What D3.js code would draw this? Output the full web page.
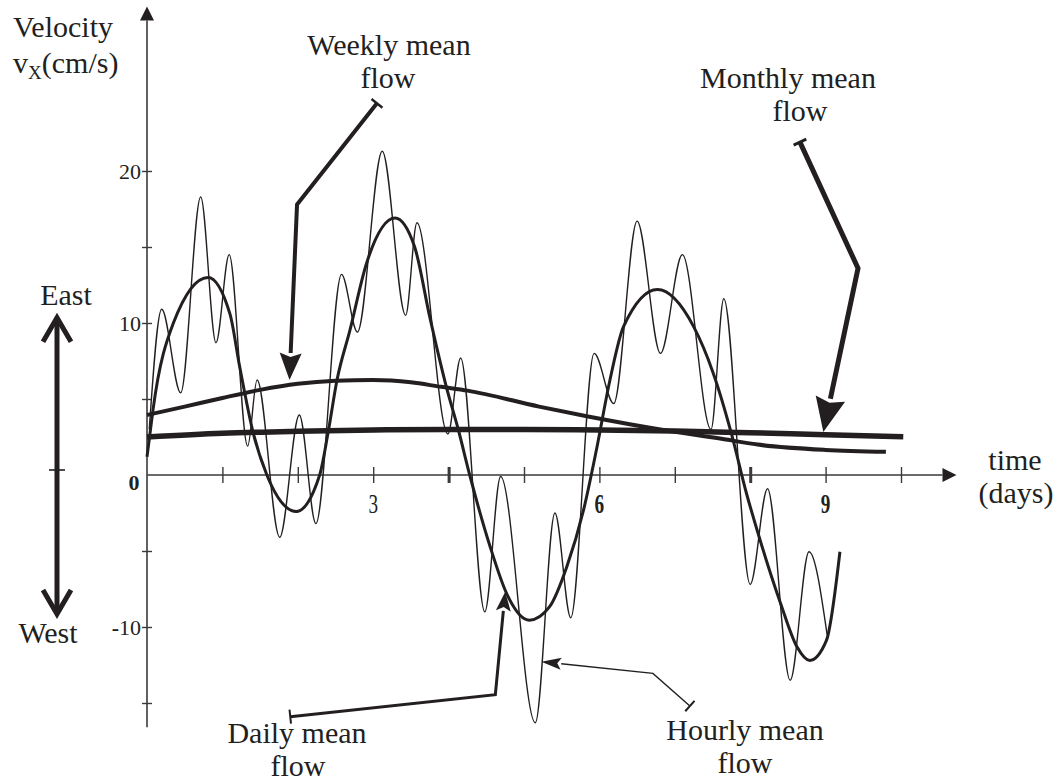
<!DOCTYPE html>
<html>
<head>
<meta charset="utf-8">
<script src="https://cdn.jsdelivr.net/npm/d3@7/dist/d3.min.js"></script>
<style>
  body { margin: 0; background: #fff; }
  text { font-family: "Liberation Serif", "Times New Roman", serif; fill: #231f20; }
</style>
</head>
<body>
<div id="chart"></div>
<script>
// Velocity v_x (cm/s) against time (days)

// axis ticks
const xTicks = [1, 2, 3, 4, 5, 6, 7, 8, 9, 10];
const xBoldTicks = [4, 8];
const xLabels = [3, 6, 9];
const xLabelBold = [false, true, true];
const yTicks = [20, 15, 10, 5, -5, -10, -15];
const yLabels = [20, 10, 0, -10];

// hourly mean flow: [day, cm/s] at each crest and trough
const hourly = [
  [0.03, 3.0], [0.195, 10.9], [0.447, 5.4], [0.712, 18.3], [0.915, 8.7],
  [1.09, 14.5], [1.335, 1.9], [1.46, 6.25], [1.76, -4.1], [2.02, 3.95],
  [2.24, -3.2], [2.58, 13.2], [2.79, 9.4], [3.12, 21.3], [3.43, 10.5],
  [3.58, 16.6], [3.99, 2.7], [4.16, 7.7], [4.48, -9.0], [4.69, -0.1],
  [5.15, -16.3], [5.41, -2.5], [5.62, -9.4], [5.93, 8.0], [6.19, 4.7],
  [6.50, 16.7], [6.81, 8.0], [7.10, 14.5], [7.48, 3.0], [7.65, 11.6],
  [8.00, -7.2], [8.23, -0.9], [8.53, -13.5], [8.78, -5.05], [9.02, -10.5]
];

// daily mean flow
const daily = [
  [0, 1.2], [0.04, 2.74], [0.08, 4.3], [0.35, 10.0], [0.81, 13.0],
  [1.1, 10.6], [1.23, 7.1], [1.41, 2.74], [1.59, 0], [1.98, -2.4],
  [2.29, 0], [2.40, 2.74], [2.52, 6.25], [2.69, 9.5], [2.91, 13.9],
  [3.29, 16.9], [3.55, 15.0], [3.75, 10.4], [3.97, 5.8], [4.13, 2.96],
  [4.28, 0], [4.55, -4.7], [4.77, -7.8], [5.07, -9.55], [5.34, -8.66],
  [5.57, -6.0], [5.79, -2.3], [5.96, 1.64], [6.14, 6.25], [6.32, 9.76],
  [6.77, 12.2], [7.25, 9.76], [7.51, 6.7], [7.75, 2.74], [7.95, -1.2],
  [8.09, -3.6], [8.40, -8.4], [8.62, -11.3], [8.79, -12.2], [9.01, -10.9],
  [9.19, -5.05]
];

// weekly mean flow
const weekly = [
  [0, 3.95], [0.5, 4.5], [1, 5.07], [1.5, 5.6], [2, 6.0], [2.5, 6.2],
  [3, 6.25], [3.5, 6.1], [3.9, 5.8], [4.25, 5.55], [5.2, 4.5], [5.85, 3.85],
  [6.85, 2.96], [7.6, 2.4], [8.1, 2.0], [9, 1.65], [9.8, 1.53]
];

// monthly mean flow
const monthly = [
  [0, 2.5], [1, 2.75], [2, 2.88], [3, 2.96], [4, 3.0], [5, 3.0],
  [6, 2.96], [7, 2.9], [8, 2.78], [9, 2.65], [10.03, 2.52]
];

// callouts: tail (with bar), bend, arrow tip, all in [day, cm/s]
const callouts = [
  { name: "weekly",  pts: [[3.05, 24.45], [1.99, 17.8], [1.89, 6.25]], w: 4,   head: [27, 22] },
  { name: "monthly", pts: [[8.66, 21.9], [9.43, 13.6], [8.97, 2.83]],  w: 5,   head: [34, 30] },
  { name: "daily",   pts: [[1.90, -15.9], [4.62, -14.45], [4.75, -7.7]], w: 3, head: [19, 15] },
  { name: "hourly",  pts: [[7.2, -15.2], [6.71, -13.05], [5.23, -12.28]], w: 1.4, head: [20, 12] }
];

const width = 1058, height = 782;
const ink = "#231f20";

const svg = d3.select("#chart").append("svg")
  .attr("width", width)
  .attr("height", height);

const x = d3.scaleLinear().domain([0, 10]).range([147, 901]);
const y = d3.scaleLinear().domain([-10, 20]).range([627, 171]);

// axes lines + arrows
svg.append("line")
  .attr("x1", x(0)).attr("x2", x(10.55))
  .attr("y1", y(0)).attr("y2", y(0))
  .attr("stroke", "#3a3a3a").attr("stroke-width", 1.6);
svg.append("path")
  .attr("d", `M${x(10.55)},${y(0) - 7}L${x(10.55) + 14},${y(0)}L${x(10.55)},${y(0) + 7}Z`)
  .attr("fill", ink);

svg.append("line")
  .attr("x1", x(0)).attr("x2", x(0))
  .attr("y1", y(-16.6)).attr("y2", y(29.9))
  .attr("stroke", "#3a3a3a").attr("stroke-width", 1.6);
svg.append("path")
  .attr("d", `M${x(0) - 7},${y(29.9)}L${x(0)},${y(29.9) - 14}L${x(0) + 7},${y(29.9)}Z`)
  .attr("fill", ink);

// x ticks, crossing the axis
const xAxis = svg.append("g")
  .attr("transform", `translate(0,${y(0) - 8})`)
  .call(d3.axisBottom(x).tickValues(xTicks).tickSize(16).tickFormat(""));
xAxis.select(".domain").remove();
xAxis.selectAll(".tick line")
  .attr("stroke", "#3a3a3a")
  .attr("stroke-width", d => xBoldTicks.includes(d) ? 3 : 1.4);

// y ticks, crossing the axis
const yAxis = svg.append("g")
  .attr("transform", `translate(${x(0) + 5},0)`)
  .call(d3.axisLeft(y).tickValues(yTicks).tickSize(10).tickFormat(""));
yAxis.select(".domain").remove();
yAxis.selectAll(".tick line").attr("stroke", "#3a3a3a").attr("stroke-width", 1.4);

// tick labels
svg.selectAll(".ylab")
  .data(yLabels)
  .enter()
  .append("text")
  .attr("class", "ylab")
  .attr("x", d => d === 0 ? x(0) - 13 : x(0) - 6)
  .attr("y", d => d === 0 ? y(0) + 15 : y(d) + 8)
  .attr("text-anchor", d => d === 0 ? "middle" : "end")
  .style("font-size", "22px")
  .style("font-weight", d => d === 0 ? "bold" : "normal")
  .each(function(d) {
    const t = d3.select(this);
    if (d < 0) {
      t.append("tspan").style("font-weight", "bold").text("-");
      t.append("tspan").text(Math.abs(d));
    } else {
      t.text(d);
    }
  });

svg.selectAll(".xlab")
  .data(xLabels)
  .enter()
  .append("text")
  .attr("class", "xlab")
  .attr("transform", d => `translate(${x(d)},${y(0) + 38}) scale(0.8,1.15)`)
  .attr("text-anchor", "middle")
  .style("font-size", "24px")
  .style("font-weight", (d, i) => xLabelBold[i] ? "bold" : "normal")
  .text(d => d);

// curves
const line = d3.line()
  .x(d => x(d[0]))
  .y(d => y(d[1]))
  .curve(d3.curveMonotoneX);

svg.append("path").datum(monthly)
  .attr("d", line).attr("fill", "none").attr("stroke", ink).attr("stroke-width", 5.5);
svg.append("path").datum(weekly)
  .attr("d", line).attr("fill", "none").attr("stroke", ink).attr("stroke-width", 4);
svg.append("path").datum(daily)
  .attr("d", line).attr("fill", "none").attr("stroke", ink).attr("stroke-width", 3);
svg.append("path").datum(hourly)
  .attr("d", line).attr("fill", "none").attr("stroke", ink).attr("stroke-width", 1.4);

// callout arrows
callouts.forEach(c => {
  const p = c.pts.map(d => [x(d[0]), y(d[1])]);
  const tip = p[2], bend = p[1], tail = p[0];
  let dx = tip[0] - bend[0], dy = tip[1] - bend[1];
  let len = Math.hypot(dx, dy);
  const ux = dx / len, uy = dy / len;
  const base = [tip[0] - ux * c.head[0], tip[1] - uy * c.head[0]];
  svg.append("path")
    .attr("d", d3.line()([tail, bend, base]))
    .attr("fill", "none").attr("stroke", ink)
    .attr("stroke-width", c.w).attr("stroke-linejoin", "miter");
  const hw = c.head[1] / 2;
  svg.append("path")
    .attr("d", `M${tip[0]},${tip[1]}L${base[0] - uy * hw},${base[1] + ux * hw}` +
               `L${base[0] + ux * 4},${base[1] + uy * 4}L${base[0] + uy * hw},${base[1] - ux * hw}Z`)
    .attr("fill", ink);
  // small bar on the tail end
  dx = bend[0] - tail[0]; dy = bend[1] - tail[1];
  len = Math.hypot(dx, dy);
  const px = -dy / len * 7, py = dx / len * 7;
  svg.append("line")
    .attr("x1", tail[0] - px).attr("y1", tail[1] - py)
    .attr("x2", tail[0] + px).attr("y2", tail[1] + py)
    .attr("stroke", ink).attr("stroke-width", Math.max(2, c.w * 0.6));
});

// East / West double arrow
const ex = 57;
svg.append("line")
  .attr("x1", ex).attr("x2", ex)
  .attr("y1", y(10.35)).attr("y2", y(-9.15))
  .attr("stroke", ink).attr("stroke-width", 5);
svg.append("path")
  .attr("d", `M${ex - 14},${y(10.35) + 24}L${ex},${y(10.35)}L${ex + 14},${y(10.35) + 24}` +
             `M${ex - 14},${y(-9.15) - 24}L${ex},${y(-9.15)}L${ex + 14},${y(-9.15) - 24}`)
  .attr("fill", "none").attr("stroke", ink).attr("stroke-width", 5);
svg.append("line")
  .attr("x1", ex - 8).attr("x2", ex + 8)
  .attr("y1", y(0.33)).attr("y2", y(0.33))
  .attr("stroke", ink).attr("stroke-width", 1.6);

// text labels
function label(lines, cx, top, anchor) {
  const t = svg.append("text")
    .attr("text-anchor", anchor || "middle")
    .style("font-size", "30px");
  lines.forEach((s, i) => {
    t.append("tspan").attr("x", cx[i]).attr("y", top + i * 33).text(s);
  });
  return t;
}

label(["Velocity"], [13], 37, "start");
const vx = svg.append("text").attr("x", 13).attr("y", 73).style("font-size", "30px");
vx.append("tspan").text("v");
vx.append("tspan").style("font-size", "19px").attr("dy", 6).text("X");
vx.append("tspan").attr("dy", -6).text("(cm/s)");

label(["East"], [66], 305);
label(["West"], [48], 643);
label(["time", "(days)"], [1015, 1016], 470);

label(["Weekly mean", "flow"], [389, 388], 55);
label(["Monthly mean", "flow"], [788, 800], 88);
label(["Daily mean", "flow"], [297, 298], 743);
label(["Hourly mean", "flow"], [745, 745], 740);
</script>
</body>
</html>
